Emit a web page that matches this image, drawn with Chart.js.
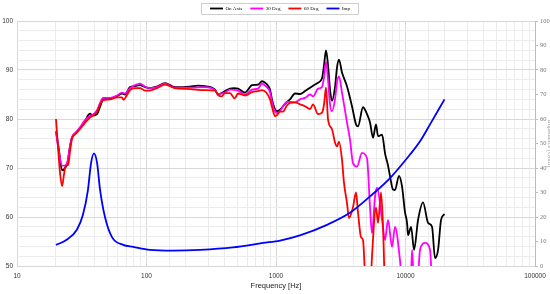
<!DOCTYPE html>
<html>
<head>
<meta charset="utf-8">
<script src="https://cdn.jsdelivr.net/npm/chart.js@4.4.1/dist/chart.umd.min.js"></script>
<style>
html, body { margin: 0; padding: 0; background: #fff; overflow: hidden; }
#wrap { width: 560px; height: 294px; }
</style>
</head>
<body>
<div id="wrap"><canvas id="responseChart"></canvas></div>
<script>
// frequency response + impedance
const onAxisFreq = [20, 21, 22.3, 23.5, 24.5, 25.7, 26.6, 28.5, 30.7, 33.5, 35.5, 36.6, 38.6, 41.5, 43.8, 46.1, 49, 52.3, 59.2, 64.7, 68.2, 74.6, 81.5, 89.1, 97.4, 106, 120, 139, 152, 166, 190, 217, 250, 283, 320, 338, 357, 380, 404, 441, 475, 509, 577, 653, 726, 780, 840, 899, 931, 982, 1018, 1074, 1133, 1216, 1283, 1403, 1532, 1675, 1832, 1932, 2111, 2266, 2349, 2433, 2522, 2613, 2706, 2855, 2958, 3064, 3233, 3532, 3862, 4148, 4296, 4697, 5044, 5321, 5613, 5920, 6136, 6589, 6949, 7330, 7594, 8009, 8297, 8907, 9395, 9910, 10280, 10466, 11040, 11645, 12500, 13660, 14940, 16030, 16910, 17840, 18820, 20000];
const onAxisDb = [77.5, 74, 69.5, 70, 71, 74.5, 76.2, 77.2, 78.2, 79.6, 80.8, 81.1, 80.7, 81.0, 82.5, 84.0, 84.2, 84.2, 84.7, 85.2, 85.0, 86.5, 86.7, 86.9, 86.5, 86.3, 86.6, 87.3, 86.9, 86.5, 86.5, 86.6, 86.8, 86.7, 86.4, 86.0, 85.0, 85.3, 85.7, 86.2, 86.3, 86.2, 85.4, 86.9, 87.0, 87.7, 87.2, 86.0, 84.0, 82.0, 81.6, 81.9, 82.6, 83.5, 84.0, 85.2, 85.1, 85.7, 86.4, 86.8, 87.4, 88.3, 91.0, 94.0, 91.0, 86.0, 83.7, 86.5, 90.5, 92.1, 89.5, 86.7, 82.6, 78.9, 78.5, 82.4, 81.0, 79.3, 76.2, 78.9, 76.5, 76.8, 73.0, 70.5, 68.3, 65.6, 65.5, 68.4, 66.3, 61.0, 58.8, 56.3, 58.0, 53.3, 59.4, 63.0, 58.8, 58.0, 51.6, 53.3, 59.4, 60.6];

const deg30Freq = [20, 21, 22.3, 23.5, 24.5, 25.7, 26.6, 28.5, 30.7, 33.5, 36.6, 38.6, 41.5, 43.8, 46.1, 52.3, 59.2, 64.7, 68.2, 74.6, 81.5, 89.1, 97.4, 106, 120, 139, 166, 217, 283, 338, 357, 404, 441, 509, 577, 653, 726, 780, 840, 899, 931, 982, 1018, 1074, 1133, 1216, 1283, 1403, 1532, 1675, 1832, 1932, 2111, 2266, 2349, 2433, 2522, 2613, 2706, 2855, 2958, 3064, 3233, 3532, 3726, 3932, 4220, 4613, 5044, 5321, 5512, 5815, 6027, 6589, 6949, 7330, 7867, 8297, 9068, 9395, 10280, 11040, 11240, 11645, 12500, 12950, 14160, 15470, 16030, 17840, 20000];
const deg30Db = [77.5, 73.5, 70.5, 70.5, 71.3, 74.5, 76.3, 77.3, 78.3, 79.8, 80.6, 80.9, 81.8, 83.3, 84.3, 84.3, 84.8, 85.4, 85.2, 86.3, 86.9, 87.2, 86.6, 86.3, 86.5, 87.2, 86.4, 86.4, 86.5, 85.9, 85.1, 85.4, 86.0, 85.8, 85.0, 86.0, 86.2, 87.2, 86.6, 85.5, 83.5, 81.5, 81.2, 81.6, 82.6, 83.5, 83.5, 83.4, 84.0, 84.3, 85.0, 84.6, 86.2, 86.5, 88.5, 91.7, 88.0, 83.0, 81.6, 84.0, 87.5, 88.7, 85.4, 79.3, 75.8, 71.0, 70.3, 73.1, 72.0, 62.0, 56.7, 64.1, 66.0, 59.4, 55.3, 59.4, 53.9, 58.0, 51.2, 47, 44, 48, 53.3, 46, 48, 53.3, 54.7, 53.3, 47, 44, 44];

const deg60Freq = [20, 20.7, 21.5, 22.3, 23.0, 23.8, 24.8, 25.7, 26.6, 28.5, 30.7, 33.5, 36.6, 38.6, 41.5, 43.8, 46.1, 52.3, 59.2, 64.7, 66.5, 70, 74.6, 81.5, 89.1, 97.4, 106, 120, 139, 166, 217, 283, 338, 357, 380, 404, 441, 480, 509, 577, 653, 726, 780, 840, 899, 931, 982, 1018, 1074, 1133, 1216, 1283, 1403, 1532, 1675, 1832, 1932, 2111, 2266, 2349, 2433, 2522, 2706, 2855, 2958, 3064, 3233, 3348, 3532, 3660, 3932, 4148, 4296, 4532, 4697, 4955, 5321, 5512, 5920, 6136, 6472, 6707, 6949, 7594, 20000];
const deg60Db = [80.0, 74.5, 69.0, 66.3, 68.5, 70.5, 70.6, 73.5, 76.0, 77.0, 78.0, 79.2, 80.3, 80.7, 81.5, 83.0, 83.8, 84.0, 84.4, 84.4, 83.9, 84.7, 85.9, 86.3, 86.3, 85.8, 85.8, 86.3, 87.0, 86.3, 86.1, 85.9, 85.8, 84.9, 84.6, 85.3, 85.3, 84.2, 85.2, 84.8, 85.5, 85.7, 85.9, 85.4, 84.0, 82.5, 80.6, 80.8, 81.5, 81.5, 82.8, 83.3, 83.4, 83.0, 82.6, 82.0, 83.0, 81.0, 81.3, 83.0, 86.4, 79.9, 77.9, 75.2, 74.4, 75.4, 71.7, 67.0, 62.9, 59.8, 62.0, 65.0, 61.0, 55.9, 55.3, 45, 44, 52, 61.9, 58.8, 65.0, 58.0, 46, 44, 44];

const impFreq = [20, 24, 29, 32.3, 35.3, 37.3, 39.3, 41.5, 43.8, 47.8, 54, 66, 79, 106, 160, 260, 465, 795, 1075, 1530, 2475, 3725, 5320, 7600, 10840, 12950, 15470, 20000];
const impOhm = [8.6, 10.6, 14.8, 20.9, 31.0, 42.0, 46.0, 42.2, 31.1, 20.0, 11.9, 8.6, 7.8, 6.6, 6.3, 6.6, 7.6, 9.4, 10.4, 12.5, 16.8, 21.7, 28.4, 35.9, 45.5, 50.9, 57.8, 68.0];

const seriesLabels = ["On Axis", "30 Deg", "60 Deg", "Imp"];
const seriesColors = ["#000000", "#ff00ff", "#ff0000", "#0000ff"];

function toPoints(freqs, vals) {
	return freqs.map((f, i) => ({ x: f, y: vals[i] }));
}

function isDecade(v) {
	const l = Math.log10(v);
	return Math.abs(l - Math.round(l)) < 1e-6;
}

// box round the legend, like the original
const legendBox = {
	id: "legendBox",
	afterDraw(chart) {
		const boxes = chart.legend && chart.legend.legendHitBoxes;
		if (!boxes || !boxes.length) return;
		const first = boxes[0], last = boxes[boxes.length - 1];
		const ctx = chart.ctx;
		ctx.save();
		ctx.strokeStyle = "#cfcfcf";
		ctx.lineWidth = 1;
		const left = Math.round(first.left - 9) + 0.5;
		const right = Math.round(last.left + last.width + 8) + 0.5;
		const top = Math.round(first.top - 3) + 0.5;
		ctx.strokeRect(left, top, right - left, 11);
		ctx.restore();
	}
};

const allSeries = [
	[onAxisFreq, onAxisDb, "y"],
	[deg30Freq, deg30Db, "y"],
	[deg60Freq, deg60Db, "y"],
	[impFreq, impOhm, "y1"]
];

const datasets = allSeries.map((s, i) => ({
	label: seriesLabels[i],
	data: toPoints(s[0], s[1]),
	yAxisID: s[2],
	borderColor: seriesColors[i],
	backgroundColor: seriesColors[i],
	borderWidth: 1.8,
	pointRadius: 0,
	cubicInterpolationMode: "monotone",
	order: 4 - i
}));

new Chart("responseChart", {
	type: "line",
	data: { datasets },
	options: {
		responsive: true,
		maintainAspectRatio: false,
		animation: false,
		layout: { padding: { top: -2, left: 0, right: 0, bottom: 0 } },
		plugins: {
			tooltip: { enabled: false },
			legend: {
				position: "top",
				labels: {
					usePointStyle: true,
					pointStyle: "line",
					pointStyleWidth: 13,
					boxHeight: 5,
					padding: 8,
					color: "#000",
					font: { family: "'Liberation Serif', serif", size: 5 },
					sort: (a, b) => a.datasetIndex - b.datasetIndex
				}
			}
		},
		scales: {
			x: {
				type: "logarithmic",
				min: 10,
				max: 100000,
				afterFit: (scale) => { scale.height = 28; },
				border: { display: false },
				grid: {
					drawTicks: false,
					color: (c) => isDecade(c.tick.value) ? "#d8d8d8" : "#ececec"
				},
				ticks: {
					autoSkip: false,
					maxRotation: 0,
					padding: 6,
					color: "#333",
					font: { family: "'Liberation Sans', Arial, sans-serif", size: 6.5 },
					callback: (v) => isDecade(v) ? String(Math.round(v)) : ""
				},
				title: {
					display: true,
					text: "Frequency [Hz]",
					color: "#222",
					font: { family: "'Liberation Sans', Arial, sans-serif", size: 7.5 },
					padding: { top: 0, bottom: 4 }
				}
			},
			y: {
				position: "left",
				min: 50,
				max: 100,
				afterFit: (scale) => { scale.width = 17; },
				border: { display: false },
				grid: {
					drawTicks: false,
					color: (c) => c.tick.value % 10 === 0 ? "#d8d8d8" : "#ececec"
				},
				ticks: {
					stepSize: 2,
					autoSkip: false,
					padding: 4,
					color: "#333",
					font: { family: "'Liberation Sans', Arial, sans-serif", size: 6.5 },
					callback: (v) => v % 10 === 0 ? String(v) : ""
				}
			},
			y1: {
				position: "right",
				min: 0,
				max: 100,
				afterFit: (scale) => { scale.width = 25; },
				border: { display: true, color: "#bdbdbd", width: 1 },
				grid: {
					drawOnChartArea: false,
					drawTicks: true,
					tickLength: 3,
					color: "#bdbdbd"
				},
				ticks: {
					stepSize: 10,
					padding: 2,
					color: "#777",
					font: { family: "'Liberation Serif', serif", size: 6.5 }
				},
				title: {
					display: true,
					text: "Impedance [Ohm]",
					color: "#999",
					font: { family: "'Liberation Serif', serif", size: 6.5 },
					padding: { top: 6, bottom: 0 }
				}
			}
		}
	},
	plugins: [legendBox]
});
</script>
</body>
</html>
